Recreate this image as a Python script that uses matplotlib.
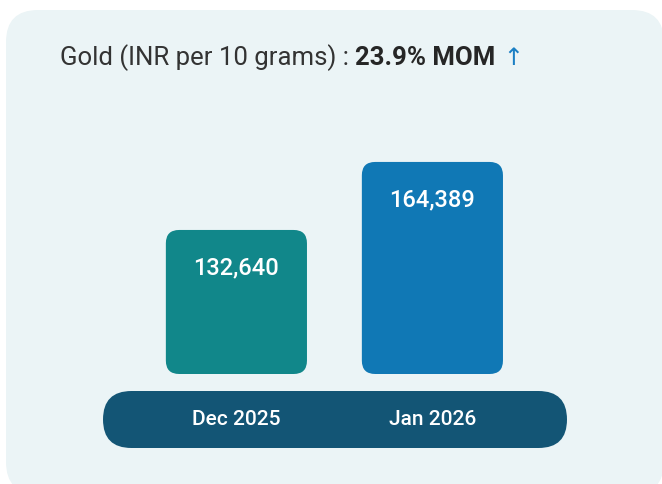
'''
gold_mom.py

Gold price card: Dec 2025 vs Jan 2026 (INR per 10 grams)
'''

# ---------------------------------------------------------------------------- #

import matplotlib as mpl
import matplotlib.pyplot as plt
from matplotlib.patches import FancyBboxPatch

mpl.rcParams['font.family'] = ['Roboto', 'DejaVu Sans']

# ---------------------------------------------------------------------------- #

months = ['Dec 2025', 'Jan 2026']
prices = [132640, 164389]
value_labels = ['132,640', '164,389']
change_label = '23.9% MOM'

bar_colors = ['#11878a', '#1078b5']
card_color = '#ebf4f6'
band_color = '#135575'
text_color = '#262626'
arrow_color = '#1b7fc4'

# Bars are drawn from a display baseline, not from zero.
y_base = 65400
y_top = 179300
bar_width = 0.72

W, H = 662, 484

# ---------------------------------------------------------------------------- #

fig = plt.figure(figsize=(W / 100, H / 100), dpi=100)
fig.patch.set_facecolor('white')

# Background axes in pixel units (origin top left).
bg = fig.add_axes([0, 0, 1, 1])
bg.set_xlim(0, W)
bg.set_ylim(H, 0)
bg.axis('off')

bg.add_patch(FancyBboxPatch((6, 10), 658, 484,
                            boxstyle='round,pad=0,rounding_size=32',
                            fc=card_color, ec='none'))

# Category band.
bg.add_patch(FancyBboxPatch((103, 391), 464, 57,
                            boxstyle='round,pad=0,rounding_size=28.5',
                            fc=band_color, ec='none'))

# Title.
title_size = 18.5
t1 = bg.text(60, 58, 'Gold (INR per 10 grams) : ', fontsize=title_size,
             color='#333333', va='center', ha='left', fontweight='normal')
fig.canvas.draw()
ann = bg.annotate(change_label, xy=(1, 0.5), xycoords=t1, fontsize=title_size,
                  fontweight='bold', color=text_color, va='center', ha='left')
bg.annotate(' \u2191', xy=(1, 0.5), xycoords=ann, fontsize=title_size - 1,
            color=arrow_color, va='center', ha='left',
            family=['DejaVu Sans'])

# Bar axes.
px_left, px_right = 100, 570
px_bottom, px_topax = 374, 130
ax = fig.add_axes([px_left / W, 1 - px_bottom / H,
                   (px_right - px_left) / W, (px_bottom - px_topax) / H])
ax.set_xlim(-0.696, 1.702)
ax.set_ylim(y_base, y_top)
ax.axis('off')

# y units per pixel / x units per pixel, to keep the corners round.
ax_w_px = px_right - px_left
ax_h_px = px_bottom - px_topax
aspect = ((y_top - y_base) / ax_h_px) / (2.398 / ax_w_px)

for i, (v, c, lab) in enumerate(zip(prices, bar_colors, value_labels)):
    ax.add_patch(FancyBboxPatch((i - bar_width / 2, y_base), bar_width,
                                v - y_base,
                                boxstyle='round,pad=0,rounding_size=0.068',
                                mutation_aspect=aspect,
                                fc=c, ec='none'))
    ax.annotate(lab, xy=(i, v), xytext=(0, -27), textcoords='offset points',
                ha='center', va='center', color='white', fontsize=17,
                fontweight='medium')

# Category labels sit in the band, aligned with the bars.
for i, m in enumerate(months):
    ax.annotate(m, xy=(i, y_base), xytext=(0, -33), textcoords='offset points',
                ha='center', va='center', color='white', fontsize=15,
                fontweight='medium', annotation_clip=False)

plt.savefig('out.png', dpi=100, facecolor='white')
